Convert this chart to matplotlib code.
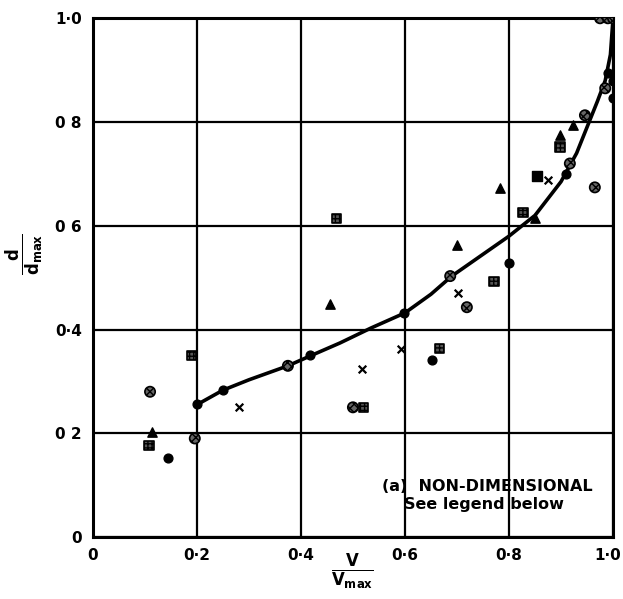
import matplotlib
matplotlib.use("Agg")
import matplotlib.pyplot as plt
import matplotlib.transforms as mtransforms

# Fitted curve
curve_x = [0.20, 0.25, 0.30, 0.375, 0.42, 0.475, 0.535, 0.60, 0.65, 0.69, 0.75, 0.80, 0.85, 0.90, 0.93, 0.95, 0.97, 0.985, 0.995, 1.0]
curve_y = [0.255, 0.283, 0.303, 0.330, 0.350, 0.374, 0.403, 0.432, 0.468, 0.503, 0.545, 0.580, 0.620, 0.685, 0.740, 0.790, 0.840, 0.880, 0.930, 1.0]

# Scatter series
filled_circle_x = [0.144, 0.652, 0.80, 1.0, 1.0, 0.20, 0.25, 0.417, 0.598, 0.91, 0.99]
filled_circle_y = [0.152, 0.341, 0.528, 0.846, 0.88, 0.256, 0.283, 0.35, 0.432, 0.70, 0.894]

hatched_circle_x = [0.11, 0.196, 0.375, 0.719, 0.687, 0.965, 0.946, 0.50, 0.917, 0.985, 0.975, 0.99, 1.0]
hatched_circle_y = [0.28, 0.19, 0.33, 0.443, 0.503, 0.674, 0.813, 0.25, 0.72, 0.865, 1.0, 1.0, 1.0]

hatched_square_x = [0.108, 0.19, 0.469, 0.667, 0.771, 0.52, 0.827, 0.898]
hatched_square_y = [0.177, 0.35, 0.614, 0.364, 0.493, 0.25, 0.626, 0.752]

triangle_x = [0.113, 0.456, 0.70, 0.783, 0.898, 0.923, 0.85]
triangle_y = [0.202, 0.45, 0.563, 0.672, 0.775, 0.794, 0.615]

cross_x = [0.281, 0.517, 0.592, 0.702, 0.875]
cross_y = [0.25, 0.323, 0.362, 0.47, 0.688]

filled_square_x = [0.854]
filled_square_y = [0.696]

ticks = [0, 0.2, 0.4, 0.6, 0.8, 1.0]
x_tick_labels = ["0", "0·2", "0·4", "0·6", "0·8", "1·0"]
y_tick_labels = ["0", "0 2", "0·4", "0 6", "0 8", "1·0"]

fig = plt.figure(figsize=(6.23, 5.99), dpi=100)
ax = fig.add_axes([0.149, 0.1035, 0.835, 0.866])
ax.set_xlim(0, 1.0)
ax.set_ylim(0, 1.0)

ax.set_xticks(ticks)
ax.set_yticks(ticks)
ax.set_xticklabels(x_tick_labels, fontsize=11, fontweight="bold")
ax.set_yticklabels(y_tick_labels, fontsize=11, fontweight="bold")
ax.tick_params(length=0, pad=8)
last = ax.get_xticklabels()[-1]
last.set_transform(last.get_transform() + mtransforms.ScaledTranslation(-4 / 72, 0, fig.dpi_scale_trans))
ax.grid(True, color="black", linewidth=1.6)
for s in ax.spines.values():
    s.set_linewidth(2.2)

ax.plot(curve_x, curve_y, color="black", linewidth=2.6, zorder=3)

ax.scatter(filled_circle_x, filled_circle_y, marker="o", s=40, color="black", zorder=4)
ax.scatter(hatched_circle_x, hatched_circle_y, marker="o", s=55, facecolor="#666666",
           edgecolor="black", linewidths=1.2, hatch="xxxx", zorder=4)
ax.scatter(hatched_square_x, hatched_square_y, marker="s", s=45, facecolor="#555555",
           edgecolor="black", linewidths=1.2, hatch="++++", zorder=4)
ax.scatter(triangle_x, triangle_y, marker="^", s=45, color="black", zorder=4)
ax.scatter(cross_x, cross_y, marker="x", s=30, color="black", linewidths=1.6, zorder=4)
ax.scatter(filled_square_x, filled_square_y, marker="s", s=45, color="black", zorder=4)

ax.text(0.556, 0.097, "(a)  NON-DIMENSIONAL", fontsize=11.5, fontweight="bold", ha="left", va="center")
ax.text(0.598, 0.062, "See legend below", fontsize=11.5, fontweight="bold", ha="left", va="center")

fig.text(0.565, 0.045, r"$\mathbf{\frac{V}{V_{max}}}$", fontsize=17, ha="center", va="center")
fig.text(0.04, 0.575, r"$\mathbf{\frac{d}{d_{max}}}$", fontsize=17, ha="center", va="center", rotation=90)

fig.savefig("out.png", dpi=100)
